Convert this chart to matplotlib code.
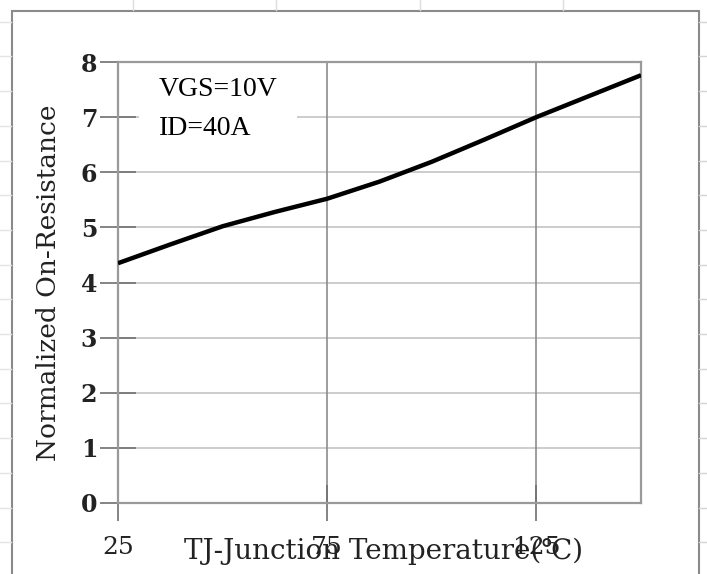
import matplotlib
matplotlib.use("Agg")
import matplotlib.pyplot as plt
from matplotlib.patches import Rectangle
from matplotlib.lines import Line2D

# -------------------------
# Data
# -------------------------
temp_c = [25, 37.5, 50, 62.5, 75, 87.5, 100, 112.5, 125, 137.5, 150]
r_norm = [4.35, 4.69, 5.02, 5.28, 5.52, 5.83, 6.19, 6.59, 7.00, 7.38, 7.76]

x_ticks = [25, 75, 125]
y_ticks = [0, 1, 2, 3, 4, 5, 6, 7, 8]
note_lines = ["VGS=10V", "ID=40A"]

SERIF = ["DejaVu Serif", "DejaVu Sans"]
GRID_LIGHT = "#c8c8c8"
GRID_DARK = "#8c8c8c"
W, H = 707, 574


def px_line(fig, x0, y0, x1, y1, color, lw):
    # line in figure pixel coords (origin top-left)
    fig.lines.append(Line2D([x0 / W, x1 / W], [1 - y0 / H, 1 - y1 / H],
                            transform=fig.transFigure, color=color, lw=lw))


def main():
    fig = plt.figure(figsize=(W / 100, H / 100), dpi=100)
    fig.patch.set_facecolor("white")

    # faint spreadsheet cell lines around the frame
    for xc in [133, 276, 420, 563]:
        px_line(fig, xc, 0, xc, 10, "#dcdcdc", 1.0)
    for k in range(16):
        yr = 21.7 + k * 34.7
        px_line(fig, 699, yr, W, yr, "#d4d4d4", 1.0)
        px_line(fig, 0, yr, 11, yr, "#e4e4e4", 1.0)

    # outer frame around the chart (continues past the bottom edge)
    fig.patches.append(Rectangle((11.5 / W, -0.05), (699 - 11.5) / W, 1.05 - 10.5 / H,
                                 transform=fig.transFigure, fill=False,
                                 edgecolor="#8a8a8a", linewidth=1.5))

    ax = fig.add_axes([118 / W, 1 - 503 / H, (641 - 118) / W, (503 - 62) / H])
    ax.set_xlim(25, 150)
    ax.set_ylim(0, 8)

    # grid: light horizontals, darker verticals
    for yv in y_ticks[1:-1]:
        ax.axhline(yv, color=GRID_LIGHT, lw=1.3, zorder=1)
    for xv in x_ticks[1:]:
        ax.axvline(xv, color=GRID_DARK, lw=1.2, zorder=1)

    ax.plot(temp_c, r_norm, color="black", lw=3.2, solid_capstyle="butt",
            solid_joinstyle="round", zorder=3)

    for s in ax.spines.values():
        s.set_color("#9a9a9a")
        s.set_linewidth(1.6)

    ax.set_xticks(x_ticks)
    ax.set_yticks(y_ticks)
    ax.set_xticklabels([str(v) for v in x_ticks], family=SERIF, fontsize=18,
                       color="#222222")
    ax.set_yticklabels([str(v) for v in y_ticks], family=SERIF, fontsize=17,
                       fontweight="bold", color="#222222")
    ax.tick_params(axis="y", direction="inout", length=26, width=1.2,
                   color="#707070", pad=2)
    ax.tick_params(axis="x", direction="inout", length=26, width=1.2,
                   color="#707070", pad=11)

    ax.set_ylabel("Normalized On-Resistance", family=SERIF, fontsize=19,
                  color="#222222", labelpad=14)
    fig.text(384 / W, 1 - 551 / H, "TJ-Junction Temperature(℃)", family=SERIF,
             fontsize=20, ha="center", va="center", color="#222222")

    # note box sits above the grid but under the spines
    ax.text(0.078, 0.965, "\n".join(note_lines), transform=ax.transAxes,
            family=["Liberation Serif", "DejaVu Serif"], fontsize=20,
            va="top", ha="left", linespacing=1.7, zorder=2,
            bbox=dict(facecolor="white", edgecolor="none",
                      boxstyle="square,pad=0.7"))

    plt.savefig("out.png", dpi=100)
    plt.close()


if __name__ == "__main__":
    main()
